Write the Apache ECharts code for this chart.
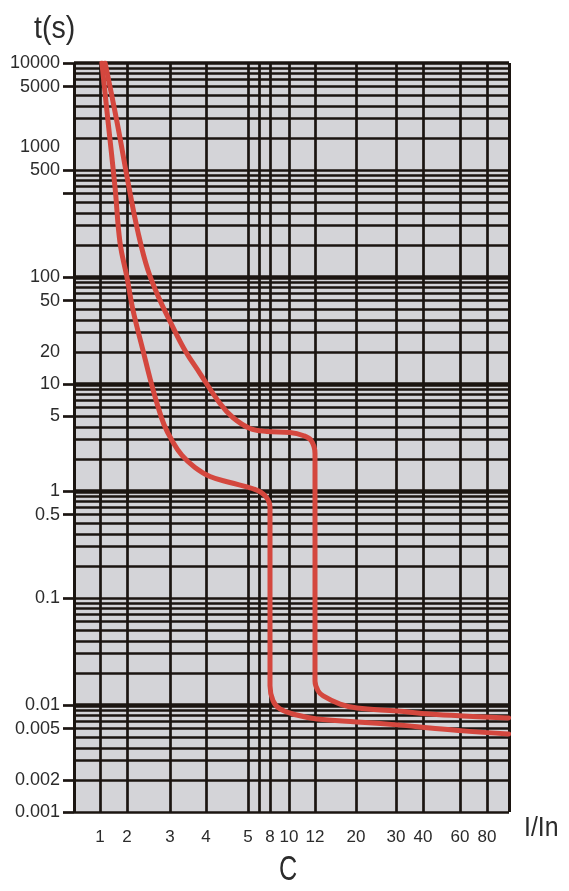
<!DOCTYPE html>
<html><head><meta charset="utf-8">
<script src="https://cdn.jsdelivr.net/npm/echarts@6/dist/echarts.min.js"></script>
<style>html,body{margin:0;padding:0;background:#fff}#c{width:569px;height:891px}</style>
</head><body><div id="c"></div>
<script>
// ---- X scale of the reference (non-uniform): I/In tick values and their stops along the axis (axis spans 0..435)
const xTickValues = [1, 2, 3, 4, 5, 8, 10, 12, 20, 30, 40, 60, 80];
const xTickLabels = ['1', '2', '3', '4', '5', '8', '10', '12', '20', '30', '40', '60', '80'];
const xScaleStops = [26, 53, 96, 132, 174, 196, 215, 241, 282, 322, 349, 386, 413];
const xExtraLines = [6.5];          // unlabeled vertical grid line between 5 and 8
const xAxisSpan = [0, 435];

// ---- Y axis (time, log scale): labels/ticks as placed in the reference
const yLabelText = ['10000', '5000', '1000', '500', '100', '50', '20', '10', '5', '1', '0.5', '0.1', '0.01', '0.005', '0.002', '0.001'];
const yLabelAt   = [10000, 6000, 1640, 1000, 100, 60, 20, 10, 5, 1, 0.6, 0.1, 0.01, 0.006, 0.002, 0.001];
const yTickAt    = [10000, 6000, 1000, 600, 100, 60, 10, 5, 1, 0.6, 0.1, 0.01, 0.006, 0.002, 0.001];
const yDecades   = [0.001, 0.01, 0.1, 1, 10, 100, 1000];
const yMinorSteps = [1, 2, 3, 4, 5, 6, 7, 8, 9];
const yHeavyLines = [100, 10, 1, 0.01];

// ---- Tripping curves [I/In, t(s)]
const curveLow = [
  [1.07, 10000], [1.30, 2805], [1.56, 676], [1.74, 211], [2.0, 99], [2.14, 48.8],
  [2.372, 20.6], [2.535, 11.3], [2.698, 6.58], [2.86, 4.18], [3.056, 2.96], [3.333, 2.15],
  [3.694, 1.66], [4.095, 1.365], [4.571, 1.20], [5.68, 1.05], [7.32, 0.906], [8.0, 0.70],
  [8.0, 0.0151], [8.32, 0.01094], [9.05, 0.00918], [10.6, 0.00806], [12.4, 0.00741],
  [20.25, 0.00695], [30.4, 0.00652], [43.8, 0.00611], [62.2, 0.00573], [96, 0.00536]
];
const curveHigh = [
  [1.19, 10000], [1.63, 2805], [2.05, 676], [2.256, 262], [2.488, 115.6], [2.767, 60.5],
  [3.056, 35.3], [3.417, 20.6], [3.83, 12.6], [4.33, 6.6], [4.64, 4.86], [5.27, 3.84],
  [7.59, 3.60], [10.08, 3.52], [11.08, 3.30], [11.7, 2.97], [12.0, 2.24], [12.0, 0.0168],
  [12.6, 0.01355], [13.6, 0.01216], [16.9, 0.0102], [20.25, 0.00938], [30.4, 0.0088],
  [43.8, 0.00824], [62.2, 0.0079], [96, 0.00757]
];

// piecewise-linear map from I/In to the reference's axis stops
function xPos(v) {
  const n = xTickValues.length;
  let i = 0;
  if (v <= xTickValues[0]) i = 0;
  else if (v >= xTickValues[n - 1]) i = n - 2;
  else { while (i < n - 2 && v > xTickValues[i + 1]) i++; }
  const a = xTickValues[i], b = xTickValues[i + 1];
  const pa = xScaleStops[i], pb = xScaleStops[i + 1];
  return pa + (v - a) / (b - a) * (pb - pa);
}
const L = Math.log10;
const toXY = arr => arr.map(p => [xPos(p[0]), L(p[1])]);

const ink = '#1b1511';
const red = '#d4473e';
const textCol = '#2b2b2b';

const vLines = [xAxisSpan[0], xAxisSpan[1]]
  .concat(xTickValues.map(xPos), xExtraLines.map(xPos))
  .map(x => ({ xAxis: x, lineStyle: { width: (x === xAxisSpan[0] || x === xAxisSpan[1]) ? 3 : 2.7 } }));
const hLines = [{ yAxis: L(10000), lineStyle: { width: 3.5 } }];
yDecades.forEach(d => yMinorSteps.forEach(m => {
  const t = d * m;
  const heavy = yHeavyLines.some(h => Math.abs(h - t) < 1e-9);
  hLines.push({ yAxis: L(t), lineStyle: { width: heavy ? 4.5 : 2.5 } });
}));

const chart = echarts.init(document.getElementById('c'));
chart.setOption({
  animation: false,
  grid: { left: 74, right: 60, top: 63, bottom: 79, show: true, backgroundColor: '#d4d4d8', borderWidth: 0 },
  xAxis: {
    type: 'value', min: xAxisSpan[0], max: xAxisSpan[1],
    axisLine: { show: false }, splitLine: { show: false },
    axisTick: { show: true, length: 11, lineStyle: { color: ink, width: 2.7 },
      customValues: [xAxisSpan[0], xAxisSpan[1]].concat(xTickValues.map(xPos), xExtraLines.map(xPos)) },
    axisLabel: {
      customValues: xTickValues.map(xPos), margin: 17,
      fontSize: 17, fontFamily: 'Liberation Sans', color: textCol,
      formatter: v => { const i = xTickValues.findIndex(t => Math.abs(xPos(t) - v) < 1e-6); return i >= 0 ? xTickLabels[i] : ''; }
    }
  },
  yAxis: {
    type: 'value', min: L(0.001), max: L(10000),
    axisLine: { show: false }, splitLine: { show: false },
    axisTick: { show: true, length: 11, lineStyle: { color: ink, width: 2.7 }, customValues: yTickAt.map(L) },
    axisLabel: {
      customValues: yLabelAt.map(L), margin: 14,
      fontSize: 18, fontFamily: 'Liberation Sans', color: textCol,
      formatter: v => { const i = yLabelAt.findIndex(t => Math.abs(L(t) - v) < 1e-6); return i >= 0 ? yLabelText[i] : ''; }
    }
  },
  graphic: [
    { type: 'text', left: 34, top: 14, scaleX: 0.92, style: { text: 't(s)', font: '31px "Liberation Sans"', fill: textCol } },
    { type: 'text', left: 524, top: 815, scaleX: 0.92, style: { text: 'I/In', font: '27px "Liberation Sans"', fill: textCol } },
    { type: 'text', left: 279, top: 853, scaleX: 0.72, style: { text: 'C', font: '35px "Liberation Sans"', fill: textCol } }
  ],
  series: [
    {
      type: 'line', data: [], silent: true, z: 1,
      markLine: {
        z: 1, silent: true, symbol: ['none', 'none'], label: { show: false }, animation: false,
        lineStyle: { color: ink, type: 'solid', width: 2.5 },
        emphasis: { disabled: true },
        data: vLines.concat(hLines)
      }
    },
    { name: 'low', type: 'line', z: 10, data: toXY(curveLow), symbol: 'none', smooth: 0.4, silent: true,
      lineStyle: { color: red, width: 5, cap: 'round', join: 'round' } },
    { name: 'high', type: 'line', z: 10, data: toXY(curveHigh), symbol: 'none', smooth: 0.4, silent: true,
      lineStyle: { color: red, width: 5, cap: 'round', join: 'round' } }
  ]
});
</script></body></html>
